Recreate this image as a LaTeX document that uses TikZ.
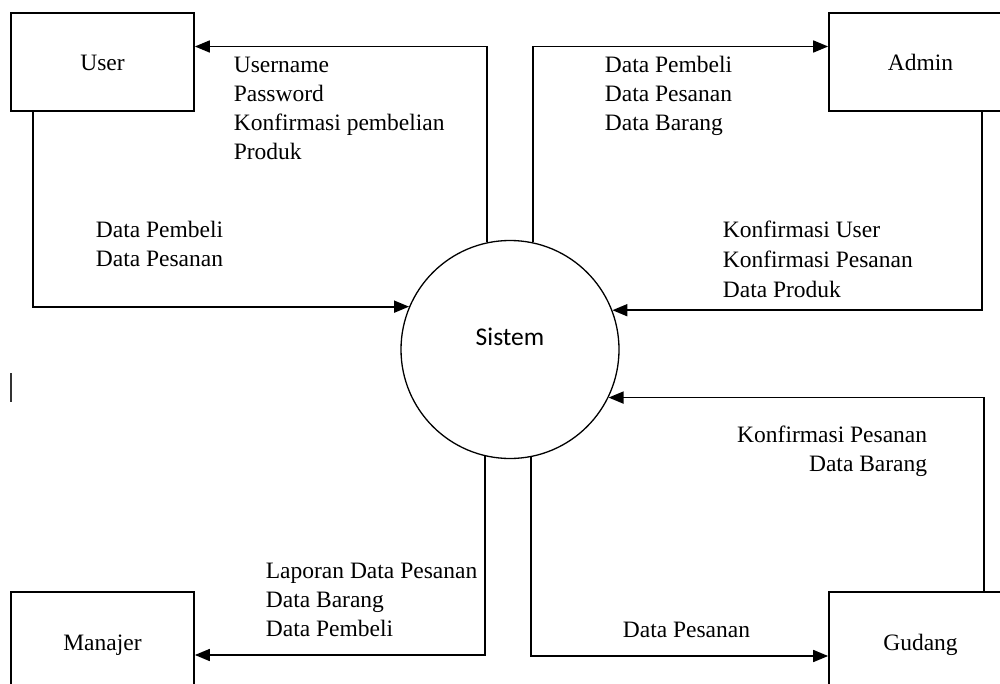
\documentclass[tikz,border=0pt]{standalone}
\usepackage{fontspec}
\setmainfont{Liberation Serif}
\newfontfamily\sistemfont{Carlito}
\usetikzlibrary{arrows.meta,positioning}

\begin{document}
\begin{tikzpicture}[x=1pt,y=-1pt,>={Triangle[length=15pt,width=12pt]},line width=1.7pt,auto,node distance=818pt,
  entity/.style={rectangle,draw,minimum width=183pt,minimum height=98pt,text height=18pt,text depth=0pt,font=\fontsize{23.5}{29}\selectfont},
  proc/.style={circle,draw,line width=1.3pt,minimum size=218pt,text height=16pt,text depth=24pt,font=\sistemfont\fontsize{25.5}{30}\selectfont},
  lbl/.style={inner sep=0pt,align=left,font=\fontsize{23.5}{29}\selectfont},
  flow/.style={->},
  vh/.style={to path={|- (\tikztotarget) \tikztonodes}}]

                    \clip (0,0) rectangle (1000,684);
                    \fill[white] (0,0) rectangle (1000,684);

                    \node[proc] (sistem) at (510,349.5) {Sistem};
                    \node[entity] (user) at (102.5,62) {User};
                    \node[entity] (admin) [right of=user] {Admin};
                    \node[entity] (manajer) [below of=user, node distance=579pt] {Manajer};
                    \node[entity] (gudang) [right of=manajer] {Gudang};

                    \path[flow]
                        (sistem.102.2) edge[vh] ([yshift=15.5pt]user.east)
                        ([xshift=-69.5pt]user.south) edge[vh] (sistem.157.1)
                        (sistem.78.4) edge[vh] ([yshift=15.5pt]admin.west)
                        ([xshift=61.5pt]admin.south) edge[vh] (sistem.21.8)
                        ([xshift=63.5pt]gudang.north) edge[vh] (sistem.334.2)
                        (sistem.281.6) edge[vh] ([yshift=-15pt]gudang.west)
                        (sistem.257.8) edge[vh] ([yshift=-14pt]manajer.east)
                        ;

                    % base = baseline of the last line
                    \node[lbl,anchor=base west] (toUser) at (233,160) {Username\\Password\\Konfirmasi pembelian\\Produk};
                    \node[lbl,anchor=base west] (fromUser) at (95,267) {Data Pembeli\\Data Pesanan};
                    \node[lbl,anchor=base west] (toAdmin) at (604,131) {Data Pembeli\\Data Pesanan\\Data Barang};
                    \node[lbl,anchor=base west,font=\fontsize{23.5}{30}\selectfont] (fromAdmin) at (722,298) {Konfirmasi User\\Konfirmasi Pesanan\\Data Produk};
                    \node[lbl,align=right,anchor=base east] (fromGudang) at (928,471) {Konfirmasi Pesanan\\Data Barang};
                    \node[lbl,anchor=base west] (toManajer) at (265,636) {Laporan Data Pesanan\\Data Barang\\Data Pembeli};
                    \node[lbl,anchor=base west] (toGudang) at (622,637) {Data Pesanan};

                    \draw[-,line width=1.6pt,black!80] (11,373) -- (11,402);
                \end{tikzpicture}
\end{document}
